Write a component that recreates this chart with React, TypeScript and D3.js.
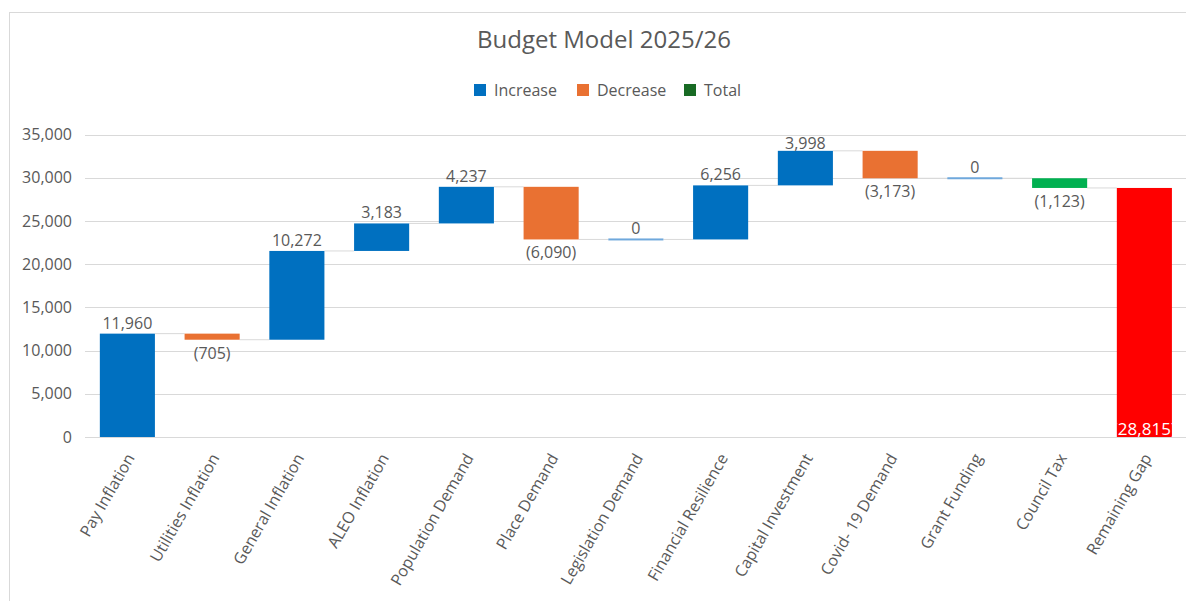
import React from "react";
import * as d3 from "d3";

const categories = [
  "Pay Inflation",
  "Utilities Inflation",
  "General Inflation",
  "ALEO Inflation",
  "Population Demand",
  "Place Demand",
  "Legislation Demand",
  "Financial Resilience",
  "Capital Investment",
  "Covid- 19 Demand",
  "Grant Funding",
  "Council Tax",
  "Remaining Gap",
];
const changes = [11960, -705, 10272, 3183, 4237, -6090, 0, 6256, 3998, -3173, 0, -1123, 28815];
// kind: inc / dec / tax (green) / total (red)
const kinds = ["inc", "dec", "inc", "inc", "inc", "dec", "inc", "inc", "inc", "dec", "inc", "tax", "total"];
const yTicks = [0, 5000, 10000, 15000, 20000, 25000, 30000, 35000];
const legendItems = [
  { label: "Increase", color: "#0070C0" },
  { label: "Decrease", color: "#E97132" },
  { label: "Total", color: "#196B24" },
];

const W = 1186;
const H = 601;
const FONT = "'Open Sans', 'Noto Sans', sans-serif";
const TXT = "#595959";
const GRID = "#d9d9d9";
const colorFor: Record<string, string> = {
  inc: "#0070C0",
  dec: "#E97132",
  tax: "#00B050",
  total: "#FF0000",
};

export default function App() {
  const x = d3
    .scaleBand<string>()
    .domain(categories)
    .range([85, 1186.75])
    .paddingInner(0.35)
    .paddingOuter(0.175);
  const y = d3.scaleLinear().domain([0, 35000]).range([437, 134.5]);
  const fmt = d3.format(",");

  // running totals
  let run = 0;
  const bars = categories.map((c, i) => {
    const v = changes[i];
    let start: number, end: number;
    if (kinds[i] === "total") {
      start = 0;
      end = v;
    } else {
      start = run;
      end = run + v;
      run = end;
    }
    return { c, v, start, end, kind: kinds[i] };
  });

  const bw = x.bandwidth();

  return (
    <svg width={W} height={H} style={{ position: "absolute", left: 0, top: 0, fontFamily: FONT }}>
      <rect x={0} y={0} width={W} height={H} fill="#fff" />
      <rect x={9.5} y={12.5} width={W + 10} height={H + 10} fill="none" stroke={GRID} strokeWidth={1} />
      <text x={604} y={48} textAnchor="middle" fontSize={24} fill={TXT}>
        Budget Model 2025/26
      </text>
      {/* legend */}
      {(() => {
        const xs = [474, 577, 684];
        return legendItems.map((l, i) => (
          <g key={l.label}>
            <rect x={xs[i]} y={84} width={12} height={12} fill={l.color} />
            <text x={xs[i] + 20} y={96} fontSize={16} fill={TXT}>
              {l.label}
            </text>
          </g>
        ));
      })()}
      {/* grid */}
      {yTicks.map((t) => (
        <g key={t}>
          <line x1={85} x2={W} y1={Math.round(y(t)) + 0.5} y2={Math.round(y(t)) + 0.5} stroke={GRID} strokeWidth={1} />
          <text x={72} y={y(t)} dy="0.35em" textAnchor="end" fontSize={16} fill={TXT}>
            {fmt(t)}
          </text>
        </g>
      ))}
      {/* connectors */}
      {bars.slice(0, -1).map((b, i) => {
        const x1 = (x(b.c) as number) + bw;
        const x2 = x(categories[i + 1]) as number;
        return (
          <line key={"c" + i} x1={x1} x2={x2} y1={y(b.end)} y2={y(b.end)} stroke={GRID} strokeWidth={1} />
        );
      })}
      {/* bars */}
      <defs>
        <clipPath id="gapclip">
          {(() => {
            const b = bars[bars.length - 1];
            return <rect x={x(b.c)} y={y(b.end)} width={bw} height={y(0) - y(b.end)} />;
          })()}
        </clipPath>
      </defs>
      {bars.map((b, i) => {
        const bx = x(b.c) as number;
        const top = y(Math.max(b.start, b.end));
        const bot = y(Math.min(b.start, b.end));
        const h = Math.max(bot - top, 2);
        const isZero = b.v === 0;
        return (
          <rect
            key={"b" + i}
            x={bx}
            y={isZero ? top - 1 : top}
            width={bw}
            height={h}
            fill={isZero ? "#6FA8DC" : colorFor[b.kind]}
          />
        );
      })}
      {/* labels */}
      {bars.map((b, i) => {
        const cx = (x(b.c) as number) + bw / 2;
        if (b.kind === "total") {
          return (
            <text
              key={"l" + i}
              x={cx}
              y={y(0) - 2}
              textAnchor="middle"
              fontSize={17}
              fill="#fff"
              clipPath="url(#gapclip)"
            >
              {"(" + fmt(b.v) + ")"}
            </text>
          );
        }
        if (b.v < 0) {
          return (
            <text key={"l" + i} x={cx} y={y(b.end) + 19} textAnchor="middle" fontSize={16} fill={TXT}>
              {"(" + fmt(-b.v) + ")"}
            </text>
          );
        }
        const ly = Math.max(y(b.end) - 5, 149);
        return (
          <text key={"l" + i} x={cx} y={ly} textAnchor="middle" fontSize={16} fill={TXT}>
            {fmt(b.v)}
          </text>
        );
      })}
      {/* x labels */}
      {categories.map((c) => {
        const cx = (x(c) as number) + bw / 2;
        return (
          <text
            key={"x" + c}
            transform={`translate(${cx + 3},${455}) rotate(-60)`}
            textAnchor="end"
            dy="0.35em"
            fontSize={16}
            fill={TXT}
          >
            {c}
          </text>
        );
      })}
    </svg>
  );
}
